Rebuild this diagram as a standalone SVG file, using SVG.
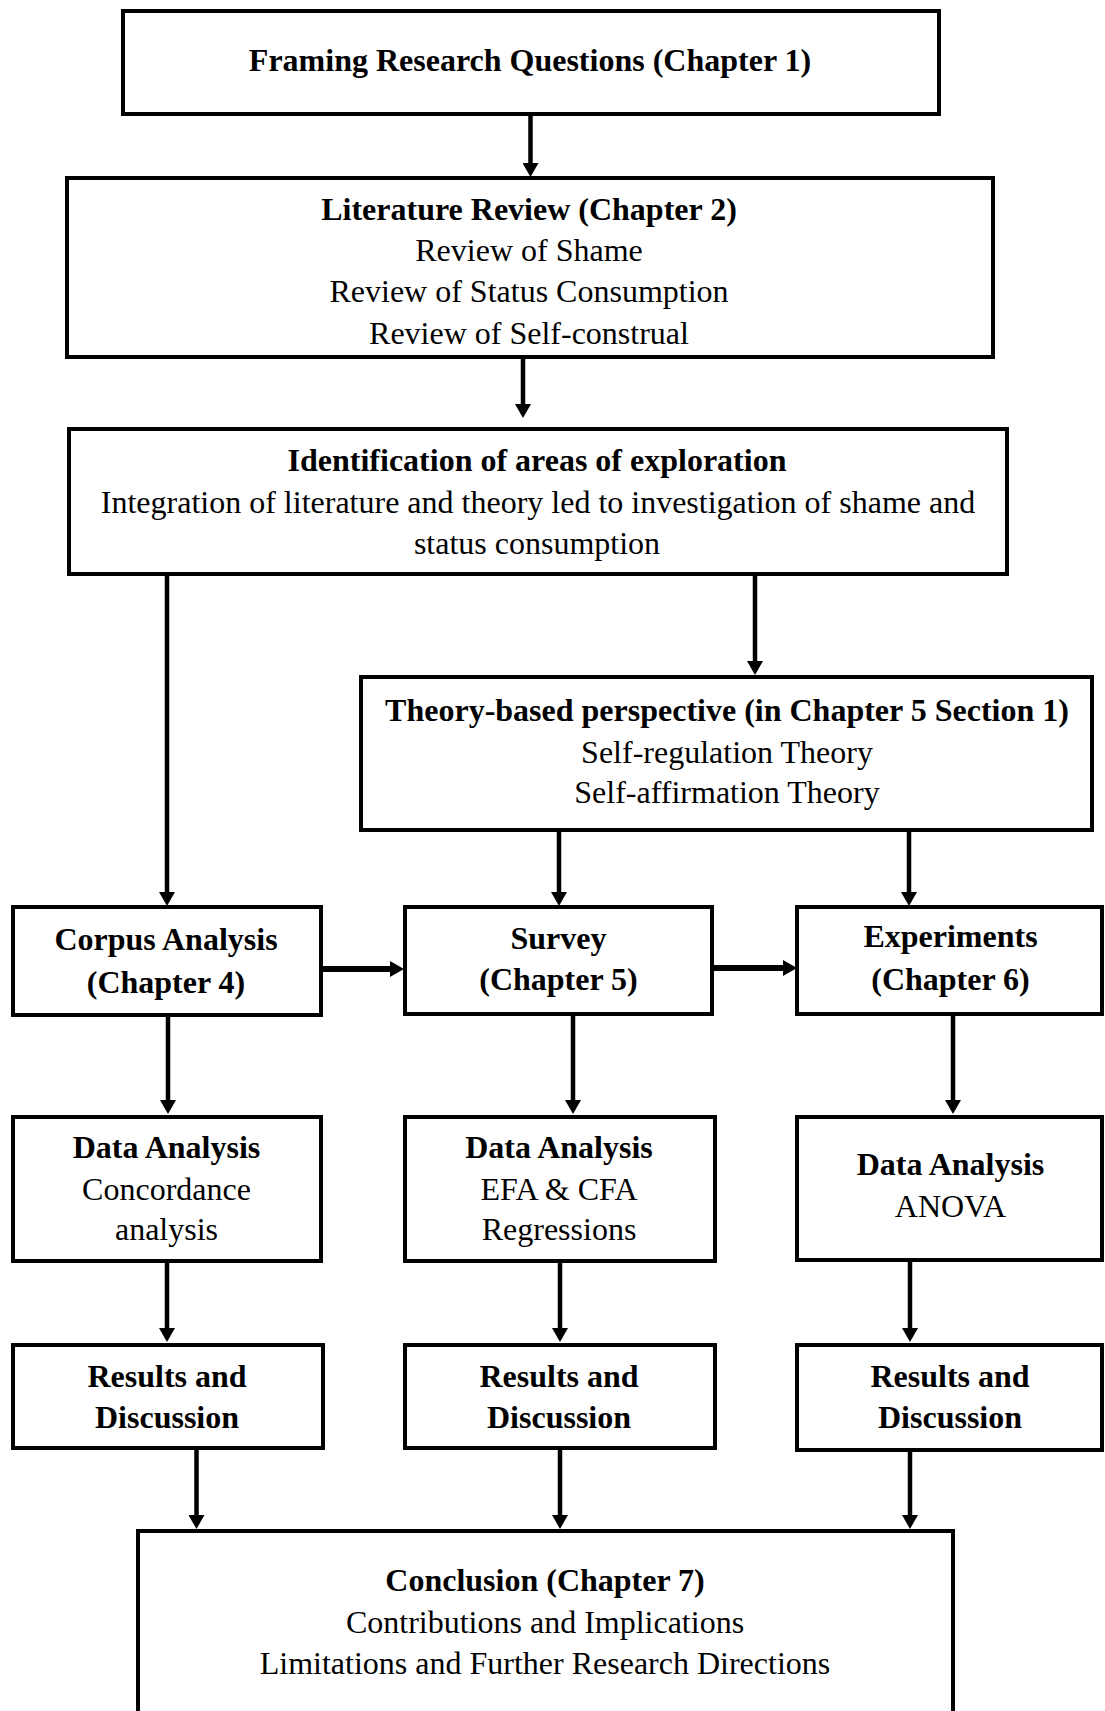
<svg xmlns="http://www.w3.org/2000/svg" width="1105" height="1711" viewBox="0 0 1105 1711">
<style>
.box{fill:#fff;stroke:#000;stroke-width:4}
.t{font-family:"Liberation Serif","Times New Roman",serif;font-size:32px;fill:#000;text-anchor:middle}
.b{font-weight:bold}
.c{stroke:#000;stroke-width:4.5;fill:none;marker-end:url(#ah)}
.h{stroke-width:6}
</style>
<defs>
<marker id="ah" markerUnits="userSpaceOnUse" viewBox="0 0 14 16" markerWidth="14" markerHeight="16" refX="6" refY="8" orient="auto">
<path d="M0,0 L14,8 L0,16 Z" fill="#000"/>
</marker>
</defs>
<rect x="0" y="0" width="1105" height="1711" fill="#fff"/>
<g id="connectors">
<line class="c" x1="530.5" y1="114" x2="530.5" y2="169"/>
<line class="c" x1="523" y1="356" x2="523" y2="410"/>
<line class="c" x1="167" y1="574" x2="167" y2="898"/>
<line class="c" x1="755" y1="574" x2="755" y2="667"/>
<line class="c" x1="559" y1="824" x2="559" y2="898"/>
<line class="c" x1="909" y1="823" x2="909" y2="898"/>
<line class="c h" x1="321" y1="969" x2="396" y2="969"/>
<line class="c h" x1="712" y1="968" x2="789" y2="968"/>
<line class="c" x1="168" y1="1013" x2="168" y2="1106"/>
<line class="c" x1="573" y1="1014" x2="573" y2="1106"/>
<line class="c" x1="953" y1="1014" x2="953" y2="1106"/>
<line class="c" x1="167" y1="1261" x2="167" y2="1334"/>
<line class="c" x1="560" y1="1261" x2="560" y2="1334"/>
<line class="c" x1="910" y1="1260" x2="910" y2="1334"/>
<line class="c" x1="196.5" y1="1448" x2="196.5" y2="1521"/>
<line class="c" x1="560" y1="1448" x2="560" y2="1521"/>
<line class="c" x1="910" y1="1450" x2="910" y2="1521"/>
</g>
<g id="n1">
<rect class="box" x="123" y="11" width="816" height="103"/>
<text class="t b" x="530" y="71">Framing Research Questions (Chapter 1)</text>
</g>
<g id="n2">
<rect class="box" x="67" y="178" width="926" height="179"/>
<text class="t b" x="529" y="220">Literature Review (Chapter 2)</text>
<text class="t" x="529" y="261">Review of Shame</text>
<text class="t" x="529" y="302">Review of Status Consumption</text>
<text class="t" x="529" y="344">Review of Self-construal</text>
</g>
<g id="n3">
<rect class="box" x="69" y="429" width="938" height="145"/>
<text class="t b" x="537" y="471">Identification of areas of exploration</text>
<text class="t" x="538" y="513">Integration of literature and theory led to investigation of shame and</text>
<text class="t" x="537" y="554">status consumption</text>
</g>
<g id="n4">
<rect class="box" x="361" y="677" width="731" height="153"/>
<text class="t b" x="727" y="721">Theory-based perspective (in Chapter 5 Section 1)</text>
<text class="t" x="727" y="763">Self-regulation Theory</text>
<text class="t" x="727" y="803">Self-affirmation Theory</text>
</g>
<g id="n5">
<rect class="box" x="13" y="907" width="308" height="108"/>
<text class="t b" x="166" y="950">Corpus Analysis</text>
<text class="t b" x="166" y="993">(Chapter 4)</text>
</g>
<g id="n6">
<rect class="box" x="405" y="907" width="307" height="107"/>
<text class="t b" x="558.5" y="949">Survey</text>
<text class="t b" x="558.5" y="990">(Chapter 5)</text>
</g>
<g id="n7">
<rect class="box" x="797" y="907" width="305" height="107"/>
<text class="t b" x="950.5" y="947">Experiments</text>
<text class="t b" x="950.5" y="990">(Chapter 6)</text>
</g>
<g id="n8">
<rect class="box" x="13" y="1117" width="308" height="144"/>
<text class="t b" x="166.5" y="1158">Data Analysis</text>
<text class="t" x="166.5" y="1200">Concordance</text>
<text class="t" x="166.5" y="1240">analysis</text>
</g>
<g id="n9">
<rect class="box" x="405" y="1117" width="310" height="144"/>
<text class="t b" x="559" y="1158">Data Analysis</text>
<text class="t" x="559" y="1200">EFA &amp; CFA</text>
<text class="t" x="559" y="1240">Regressions</text>
</g>
<g id="n10">
<rect class="box" x="797" y="1117" width="305" height="143"/>
<text class="t b" x="950.5" y="1175">Data Analysis</text>
<text class="t" x="950.5" y="1217">ANOVA</text>
</g>
<g id="n11">
<rect class="box" x="13" y="1345" width="310" height="103"/>
<text class="t b" x="167" y="1387">Results and</text>
<text class="t b" x="167" y="1428">Discussion</text>
</g>
<g id="n12">
<rect class="box" x="405" y="1345" width="310" height="103"/>
<text class="t b" x="559" y="1387">Results and</text>
<text class="t b" x="559" y="1428">Discussion</text>
</g>
<g id="n13">
<rect class="box" x="797" y="1345" width="305" height="105"/>
<text class="t b" x="950" y="1387">Results and</text>
<text class="t b" x="950" y="1428">Discussion</text>
</g>
<g id="n14">
<rect class="box" x="138" y="1531" width="815" height="200"/>
<text class="t b" x="545" y="1591">Conclusion (Chapter 7)</text>
<text class="t" x="545" y="1633">Contributions and Implications</text>
<text class="t" x="545" y="1674">Limitations and Further Research Directions</text>
</g>
</svg>
